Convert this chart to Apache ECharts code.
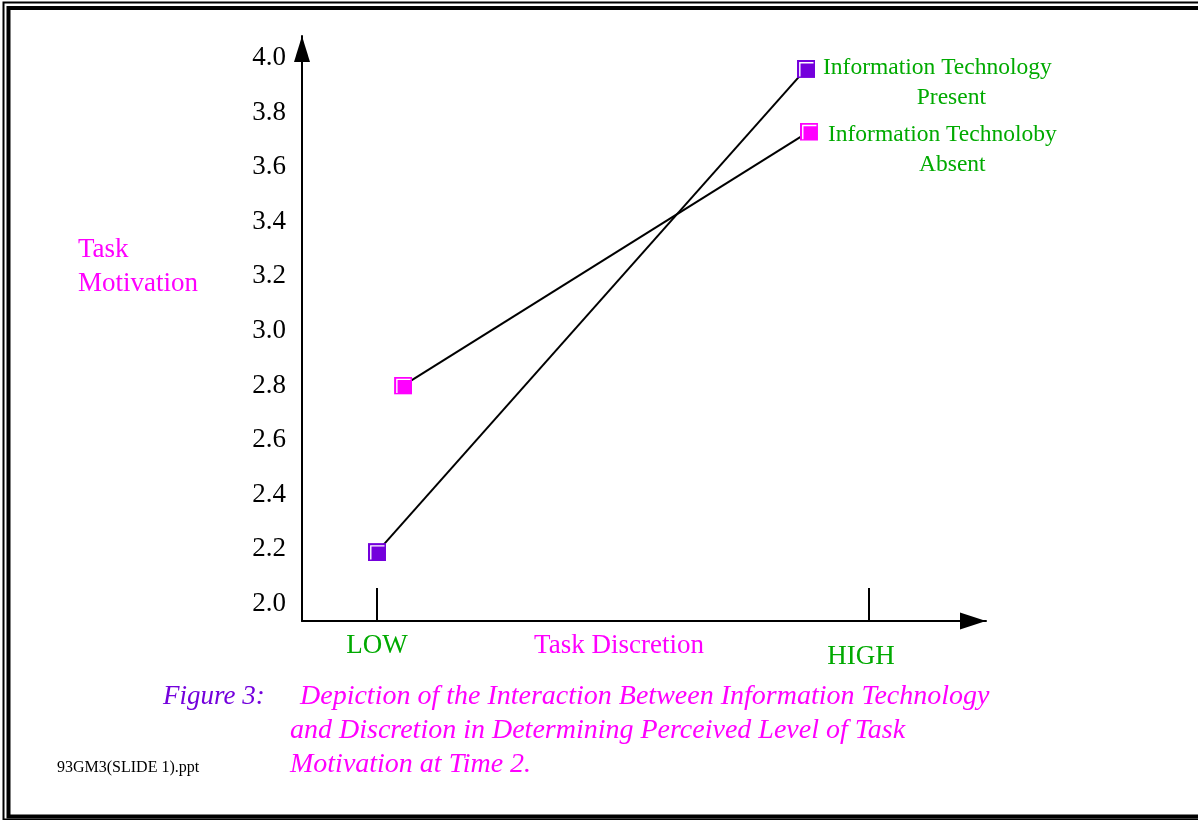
<!DOCTYPE html>
<html>
<head>
<meta charset="utf-8">
<title>Task Motivation</title>
<script src="https://cdn.jsdelivr.net/npm/echarts@6/dist/echarts.min.js"></script>
<style>
  html, body { margin: 0; padding: 0; background: #fff; }
  #main { width: 1198px; height: 820px; }
</style>
</head>
<body>
<div id="main"></div>
<script>
// values
const xLabels = ['LOW', 'HIGH'];
const xTicks = [0, 1];
const yTicks = [2.0, 2.2, 2.4, 2.6, 2.8, 3.0, 3.2, 3.4, 3.6, 3.8, 4.0];

const presentX = [0, 0.872];
const presentY = [2.19, 3.96];
const absentX = [0.053, 0.878];
const absentY = [2.8, 3.73];

const FONT = 'Liberation Serif';
const GREEN = '#00aa00';
const MAGENTA = '#ff00ff';
const PURPLE = '#7400dc';

// little bevelled square like the old powerpoint markers
function squareIcon(fill) {
  const svg = "<svg xmlns='http://www.w3.org/2000/svg' width='18' height='18'>" +
    "<rect width='18' height='18' fill='" + fill + "'/>" +
    "<path d='M2.8 16.5V2.8H16.5' stroke='#ffffff' stroke-width='1.4' fill='none'/></svg>";
  return 'image://data:image/svg+xml;charset=utf-8,' + encodeURIComponent(svg);
}

function pairs(xs, ys) {
  return xs.map((x, i) => [x, ys[i]]);
}

const chart = echarts.init(document.getElementById('main'));

const option = {
  animation: false,
  backgroundColor: '#fff',
  textStyle: { fontFamily: FONT },
  grid: { left: 302, top: 36, width: 684, height: 585 },
  xAxis: {
    type: 'value',
    min: -0.1524,
    max: 1.2378,
    splitLine: { show: false },
    axisLine: {
      show: true,
      onZero: false,
      symbol: ['none', 'triangle'],
      symbolSize: [17, 26],
      symbolOffset: [0, -13],
      lineStyle: { color: '#000', width: 2 }
    },
    axisTick: {
      show: true,
      inside: true,
      length: 33,
      customValues: xTicks,
      lineStyle: { color: '#000', width: 2 }
    },
    axisLabel: {
      customValues: xTicks,
      margin: 11,
      formatter: (v) => {
        const i = xTicks.indexOf(v);
        if (i < 0) return '';
        return i === 0 ? '{low|' + xLabels[i] + '}' : '{high|' + xLabels[i] + '}';
      },
      rich: {
        low: { color: GREEN, fontFamily: FONT, fontSize: 27 },
        high: { color: GREEN, fontFamily: FONT, fontSize: 27, padding: [11, 16, 0, 0] }
      }
    }
  },
  yAxis: {
    type: 'value',
    min: 1.9377,
    max: 4.0806,
    splitLine: { show: false },
    axisLine: {
      show: true,
      onZero: false,
      symbol: ['none', 'triangle'],
      symbolSize: [16, 26],
      symbolOffset: [0, -13],
      lineStyle: { color: '#000', width: 2 }
    },
    axisTick: { show: false },
    axisLabel: {
      customValues: yTicks,
      margin: 16,
      padding: [4, 0, 0, 0],
      color: '#000',
      fontFamily: FONT,
      fontSize: 27,
      formatter: (v) => v.toFixed(1)
    }
  },
  series: [
    {
      name: 'Information Technology Present',
      type: 'line',
      data: pairs(presentX, presentY),
      symbol: squareIcon(PURPLE),
      symbolSize: 18,
      lineStyle: { color: '#000', width: 2 },
      itemStyle: { color: PURPLE },
      z: 3,
      endLabel: {
        show: true,
        distance: 17,
        offset: [0, 14],
        formatter: '{a|Information Technology}\n{b|Present}',
        rich: {
          a: { align: 'center', color: GREEN, fontFamily: FONT, fontSize: 23.5, lineHeight: 30 },
          b: { align: 'center', color: GREEN, fontFamily: FONT, fontSize: 23.5, lineHeight: 30, padding: [0, 0, 0, 28] }
        }
      }
    },
    {
      name: 'Information Technoloby Absent',
      type: 'line',
      data: pairs(absentX, absentY),
      symbol: squareIcon(MAGENTA),
      symbolSize: 18,
      lineStyle: { color: '#000', width: 2 },
      itemStyle: { color: MAGENTA },
      z: 3,
      endLabel: {
        show: true,
        distance: 19,
        offset: [0, 18],
        formatter: '{a|Information Technoloby}\n{b|Absent}',
        rich: {
          a: { align: 'center', color: GREEN, fontFamily: FONT, fontSize: 23.5, lineHeight: 30 },
          b: { align: 'center', color: GREEN, fontFamily: FONT, fontSize: 23.5, lineHeight: 30, padding: [0, 0, 0, 20] }
        }
      }
    }
  ],
  graphic: [
    // double frame of the slide
    {
      type: 'polyline',
      shape: { points: [[1200, 2.5], [3.5, 2.5], [3.5, 819.6], [1200, 819.6]] },
      style: { stroke: '#000', lineWidth: 2, fill: null }
    },
    {
      type: 'polyline',
      shape: { points: [[1200, 8], [8.5, 8], [8.5, 816.5], [1200, 816.5]] },
      style: { stroke: '#000', lineWidth: 4, fill: null }
    },
    {
      type: 'text',
      left: 78,
      top: 233,
      style: {
        text: 'Task\nMotivation',
        fill: MAGENTA,
        font: '27px "Liberation Serif"',
        lineHeight: 34
      }
    },
    {
      type: 'text',
      x: 619,
      y: 646,
      style: {
        text: 'Task Discretion',
        fill: MAGENTA,
        font: '27px "Liberation Serif"',
        align: 'center',
        verticalAlign: 'middle'
      }
    },
    {
      type: 'text',
      left: 163,
      top: 680,
      style: {
        text: 'Figure 3:',
        fill: PURPLE,
        font: 'italic 27px "Liberation Serif"',
        lineHeight: 34
      }
    },
    {
      type: 'text',
      left: 300,
      top: 680,
      style: {
        text: 'Depiction of the Interaction Between Information Technology',
        fill: MAGENTA,
        font: 'italic 28px "Liberation Serif"',
        lineHeight: 34
      }
    },
    {
      type: 'text',
      left: 290,
      top: 714,
      style: {
        text: 'and Discretion in Determining Perceived Level of Task\nMotivation at Time 2.',
        fill: MAGENTA,
        font: 'italic 28px "Liberation Serif"',
        lineHeight: 33.5
      }
    },
    {
      type: 'text',
      left: 57,
      top: 759,
      style: {
        text: '93GM3(SLIDE 1).ppt',
        fill: '#000',
        font: '16px "Liberation Serif"',
        lineHeight: 18
      }
    }
  ]
};

chart.setOption(option);
</script>
</body>
</html>
